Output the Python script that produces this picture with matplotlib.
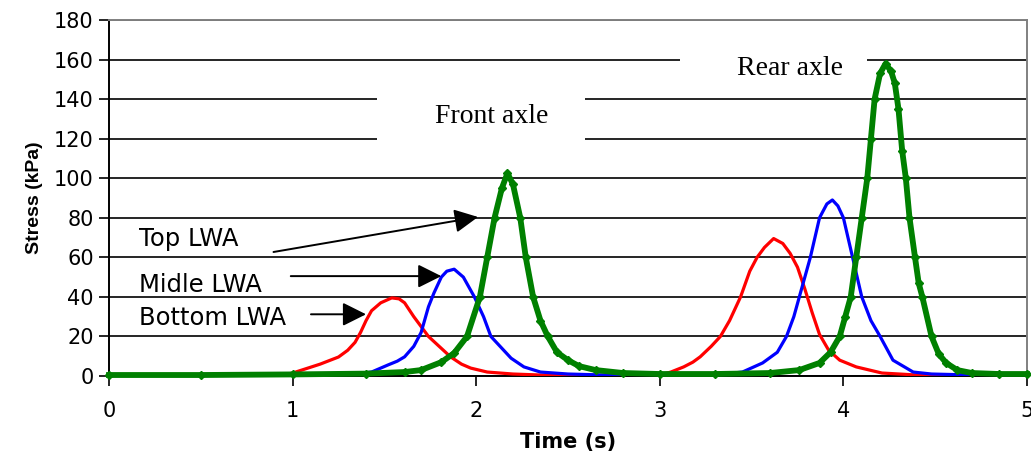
import matplotlib
matplotlib.use("Agg")
import matplotlib.pyplot as plt
from matplotlib.patches import Rectangle

# ---- data ----
bottom_t = [0, 0.5, 0.95, 1.0, 1.05, 1.10, 1.15, 1.20, 1.25, 1.30, 1.34, 1.37, 1.40, 1.43, 1.48,
            1.54, 1.58, 1.61, 1.66, 1.70, 1.74, 1.79, 1.86, 1.92, 1.97, 2.06, 2.2, 2.35, 2.6,
            3.0, 3.06, 3.13, 3.18, 3.22, 3.28, 3.33, 3.38, 3.44, 3.49, 3.53, 3.57, 3.62, 3.67,
            3.71, 3.75, 3.79, 3.83, 3.87, 3.92, 3.98, 4.07, 4.21, 4.4, 5.0]
bottom_v = [0.3, 0.3, 0.5, 1.5, 3, 4.5, 6, 7.8, 9.6, 13, 17, 22, 28, 33, 37,
            39.5, 39, 37, 30, 25, 20, 15.7, 9.7, 6, 4, 2, 1, 0.5, 0.3,
            0.5, 2, 4.6, 7, 9.7, 15, 20, 28, 40, 53, 60, 65, 69.5, 67,
            62, 55, 44, 32, 21, 13, 8, 4.6, 1.5, 0.5, 0.3]

middle_t = [0, 0.5, 1.0, 1.3, 1.43, 1.52, 1.57, 1.61, 1.66, 1.70, 1.74, 1.77, 1.81, 1.84, 1.88,
            1.93, 1.99, 2.04, 2.08, 2.12, 2.19, 2.26, 2.35, 2.5, 2.7, 3.0, 3.3, 3.45, 3.56, 3.64,
            3.69, 3.73, 3.76, 3.79, 3.82, 3.87, 3.91, 3.94, 3.97, 4.00, 4.05, 4.10, 4.15, 4.20,
            4.27, 4.38, 4.48, 4.7, 5.0]
middle_v = [0.3, 0.3, 0.3, 0.5, 2, 5.6, 7.5, 9.7, 15, 22, 35, 42, 50, 53, 54,
            50, 40, 30, 20, 16, 9, 4.6, 2, 1, 0.5, 0.3, 0.5, 2, 6.6, 12,
            20, 30, 40, 50, 60, 80, 87, 89, 86, 80, 60, 40, 28, 20,
            8, 2, 1, 0.5, 0.3]

top_t = [0, 0.5, 1.0, 1.4, 1.61, 1.70, 1.81, 1.88, 1.95, 2.02, 2.06, 2.10, 2.14, 2.17, 2.20,
         2.24, 2.27, 2.31, 2.35, 2.39, 2.44, 2.50, 2.56, 2.65, 2.8, 3.0, 3.3, 3.6, 3.76, 3.87,
         3.93, 3.98, 4.01, 4.04, 4.07, 4.10, 4.13, 4.15, 4.17, 4.20, 4.23, 4.26, 4.28, 4.30,
         4.32, 4.34, 4.36, 4.39, 4.41, 4.43, 4.48, 4.52, 4.56, 4.62, 4.7, 4.85, 5.0]
top_v = [0.5, 0.5, 0.8, 1.2, 2, 3, 7, 11.6, 20, 40, 60, 80, 95, 102.5, 97,
         80, 60, 40, 28, 20, 12, 8, 5, 3, 1.5, 1, 1, 1.5, 3, 6.6,
         12, 20, 30, 40, 60, 80, 100, 120, 140, 153, 158, 154, 148, 135,
         114, 100, 80, 60, 47, 40, 20, 11, 6.6, 3, 1.5, 1, 1]

x_ticks = [0, 1, 2, 3, 4, 5]
y_ticks = [0, 20, 40, 60, 80, 100, 120, 140, 160, 180]

# ---- figure ----
W, H = 1031, 457
fig = plt.figure(figsize=(W / 100, H / 100), dpi=100)
ax = fig.add_axes([109 / W, (H - 376) / H, (1027 - 109) / W, (376 - 20) / H])

ax.set_xlim(0, 5)
ax.set_ylim(0, 180)
ax.set_xticks(x_ticks)
ax.set_yticks(y_ticks)
ax.set_xticklabels([str(v) for v in x_ticks], fontsize=15, family="DejaVu Sans")
ax.set_yticklabels([str(v) for v in y_ticks], fontsize=15, family="DejaVu Sans")
ax.tick_params(axis="x", direction="out", length=7, width=1.2, pad=11, colors="black")
ax.tick_params(axis="y", direction="out", length=7, width=1.2, pad=4, colors="black")

ax.yaxis.grid(True, color="black", linewidth=1.2, zorder=0)
ax.set_axisbelow(True)
for s in ["left", "bottom"]:
    ax.spines[s].set_color("black")
    ax.spines[s].set_linewidth(1.4)
for s in ["top", "right"]:
    ax.spines[s].set_color("#808080")
    ax.spines[s].set_linewidth(1.4)

ax.set_xlabel("Time (s)", fontsize=15, fontweight="bold", family="DejaVu Sans", labelpad=8)
ax.set_ylabel("Stress (kPa)", fontsize=14, fontweight="bold", family="Liberation Sans", labelpad=8)

# white boxes behind axle labels (hide gridlines)
ax.add_patch(Rectangle((1.46, 110), 2.595 - 1.46, 40, facecolor="white", edgecolor="none", zorder=1))
ax.add_patch(Rectangle((3.11, 146), 4.13 - 3.11, 28, facecolor="white", edgecolor="none", zorder=1))

ax.text(2.085, 128, "Front axle", fontsize=20, family="Liberation Serif", ha="center", va="baseline", zorder=2)
ax.text(3.71, 152, "Rear axle", fontsize=20, family="Liberation Serif", ha="center", va="baseline", zorder=2)

# series
ax.plot(bottom_t, bottom_v, color="#ff0000", lw=2.3, zorder=3)
ax.plot(middle_t, middle_v, color="#0000ff", lw=2.3, zorder=4)
ax.plot(top_t, top_v, color="#008000", lw=4.2, marker="D", markersize=4.5, zorder=5, clip_on=False)

# annotations
arrow = dict(arrowstyle="-|>,head_length=0.9,head_width=0.45", color="black", lw=1.4,
             mutation_scale=16, shrinkA=0, shrinkB=0)
ax.text(0.163, 65.7, "Top LWA", fontsize=17.5, family="DejaVu Sans", va="baseline", zorder=6)
ax.text(0.163, 42.5, "Midle LWA", fontsize=17.5, family="DejaVu Sans", va="baseline", zorder=6)
ax.text(0.163, 25.8, "Bottom LWA", fontsize=17.5, family="DejaVu Sans", va="baseline", zorder=6)
ax.annotate("", xy=(2.01, 80.4), xytext=(0.896, 62.7), arrowprops=arrow, zorder=6)
ax.annotate("", xy=(1.81, 50.5), xytext=(0.99, 50.5), arrowprops=arrow, zorder=6)
ax.annotate("", xy=(1.40, 31.2), xytext=(1.10, 31.2), arrowprops=arrow, zorder=6)

fig.savefig("out.png", dpi=100)
